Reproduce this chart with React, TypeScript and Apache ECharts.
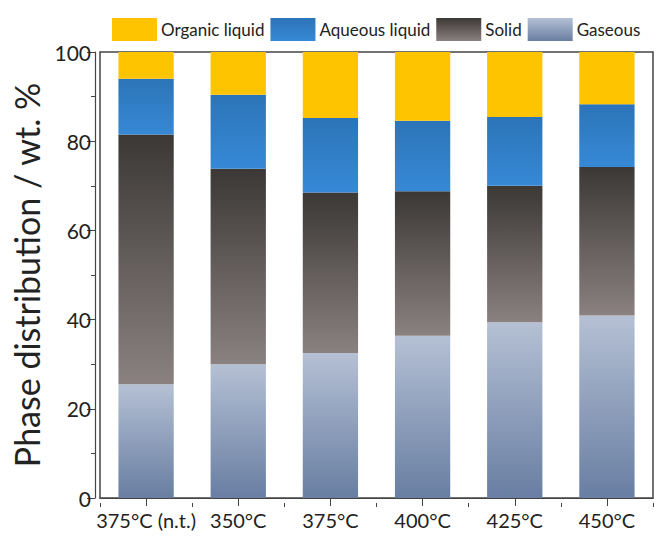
import React, { useEffect, useRef } from "react";
import * as echarts from "echarts";

const categories = ["375°C (n.t.)", "350°C", "375°C", "400°C", "425°C", "450°C"];
const gaseous = [25.5, 30.0, 32.5, 36.4, 39.4, 40.9];
const solid = [56.0, 43.8, 36.0, 32.4, 30.6, 33.3];
const aqueous = [12.5, 16.6, 16.7, 15.8, 15.4, 14.1];
const organic = [6.0, 9.6, 14.8, 15.4, 14.6, 11.7];
const legendOrder = ["Organic liquid", "Aqueous liquid", "Solid", "Gaseous"];

const FONT = "Lato, 'Open Sans', sans-serif";

const vGrad = (top: string, bottom: string) =>
  new echarts.graphic.LinearGradient(0, 0, 0, 1, [
    { offset: 0, color: top },
    { offset: 1, color: bottom },
  ]);

export default function App() {
  const ref = useRef<HTMLDivElement>(null);

  useEffect(() => {
    document.body.style.margin = "0";
    if (!ref.current) return;
    const chart = echarts.init(ref.current, undefined, { renderer: "svg" });

    const barBase = {
      type: "bar" as const,
      stack: "total",
      barWidth: "60%",
      xAxisIndex: 0,
      yAxisIndex: 0,
    };

    chart.setOption({
      animation: false,
      backgroundColor: "#ffffff",
      textStyle: { fontFamily: FONT },
      legend: {
        data: legendOrder,
        left: 107,
        top: 13,
        icon: "rect",
        itemWidth: 45,
        itemHeight: 23,
        itemGap: 6,
        textStyle: { fontFamily: FONT, fontSize: 17, color: "#222", padding: [0, 0, 0, -1] },
      },
      grid: {
        left: 100,
        right: 1,
        top: 52,
        bottom: 38,
        show: true,
        borderColor: "#444",
        borderWidth: 1.5,
        backgroundColor: "transparent",
      },
      xAxis: [
        {
          type: "category",
          data: categories,
          offset: 5,
          axisLine: { show: true, lineStyle: { color: "#444", width: 1.2 } },
          axisTick: { show: true, alignWithLabel: true, interval: 0, length: 8, lineStyle: { color: "#444" } },
          axisLabel: { fontFamily: FONT, fontSize: 20, color: "#222", margin: 7, interval: 0 },
        },
        {
          type: "category",
          data: categories,
          position: "bottom",
          offset: 5,
          axisLine: { show: false },
          axisTick: { show: true, interval: 0, length: 4, lineStyle: { color: "#444" } },
          axisLabel: { show: false },
        },
      ],
      yAxis: {
        type: "value",
        min: 0,
        max: 100,
        interval: 20,
        offset: 5,
        name: "Phase distribution / wt. %",
        nameLocation: "middle",
        nameGap: 48,
        nameTextStyle: { fontFamily: FONT, fontSize: 34, color: "#222" },
        axisLine: { show: true, lineStyle: { color: "#444", width: 1.2 } },
        axisTick: { show: true, length: 8, lineStyle: { color: "#444" } },
        minorTick: { show: true, splitNumber: 2, length: 4, lineStyle: { color: "#444" } },
        splitLine: { show: false },
        axisLabel: { fontFamily: FONT, fontSize: 21, color: "#222", margin: 4 },
      },
      series: [
        {
          ...barBase,
          name: "Gaseous",
          data: gaseous,
          itemStyle: { color: vGrad("#b5c0d4", "#687ea2") },
        },
        {
          ...barBase,
          name: "Solid",
          data: solid,
          itemStyle: { color: vGrad("#3b3836", "#8a8180") },
        },
        {
          ...barBase,
          name: "Aqueous liquid",
          data: aqueous,
          itemStyle: { color: vGrad("#2c74b8", "#3689d6") },
        },
        {
          ...barBase,
          name: "Organic liquid",
          data: organic,
          itemStyle: { color: "#ffc400" },
        },
      ],
    });

    return () => chart.dispose();
  }, []);

  return <div ref={ref} style={{ width: 654, height: 536 }} />;
}
